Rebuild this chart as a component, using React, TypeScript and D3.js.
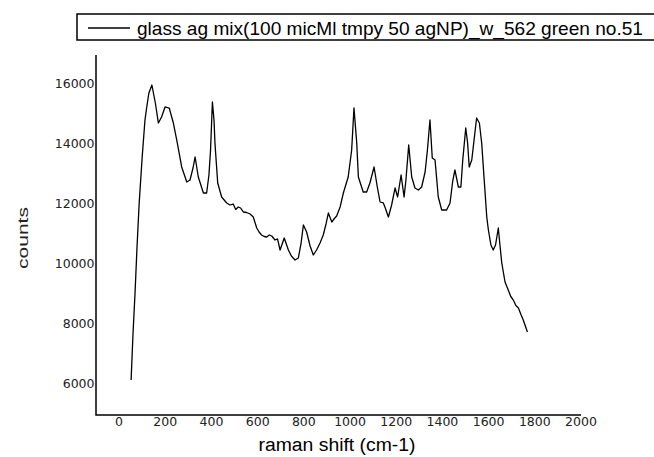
import React from "react";
import * as d3 from "d3";

const ramanShift = [52,60,69,78,87,100,112,121,129,142,157,170,184,199,217,235,252,271,293,307,320,329,343,365,379,389,396,404,411,415,427,444,466,480,494,505,516,526,538,552,567,581,596,606,617,628,639,650,661,675,686,697,715,733,746,762,776,788,798,812,827,841,855,870,884,896,906,921,932,942,957,971,992,1007,1017,1029,1036,1057,1072,1086,1104,1118,1130,1144,1151,1166,1180,1195,1206,1221,1234,1242,1254,1267,1281,1296,1310,1325,1335,1346,1356,1368,1382,1397,1418,1433,1444,1454,1469,1480,1488,1501,1509,1516,1527,1537,1548,1560,1570,1580,1592,1599,1610,1620,1630,1642,1649,1657,1671,1685,1696,1707,1718,1729,1740,1750,1768];
const counts = [6117,7617,9017,10617,12017,13550,14783,15283,15683,15950,15350,14683,14883,15217,15183,14683,14017,13217,12717,12783,13183,13550,12883,12350,12350,12950,13783,15383,14783,14017,12683,12217,12017,11950,11983,11800,11883,11850,11717,11700,11650,11550,11183,11050,10950,10900,10883,10950,10917,10783,10820,10450,10850,10450,10250,10117,10183,10683,11283,11050,10583,10283,10450,10683,10950,11317,11683,11383,11500,11583,11883,12350,12883,13783,15183,14017,12883,12383,12383,12683,13217,12550,12050,12017,11883,11550,11950,12517,12217,12950,12217,12783,13950,12883,12517,12450,12550,13050,13783,14783,13517,13450,12217,11783,11783,12017,12717,13117,12550,12550,13450,14517,14017,13217,13450,14117,14850,14683,14017,12883,11550,11117,10617,10450,10617,11183,10617,10017,9383,9117,8900,8783,8600,8517,8300,8117,7717];

const xTicks = [0,200,400,600,800,1000,1200,1400,1600,1800,2000];
const yTicks = [6000,8000,10000,12000,14000,16000];
const legendLabel = "glass ag mix(100 micMl tmpy 50 agNP)_w_562 green no.51";
const xTitle = "raman shift (cm-1)";
const yTitle = "counts";

export default function App() {
  const x = d3.scaleLinear().domain([-100, 2000]).range([96, 581]);
  const y = d3.scaleLinear().domain([4950, 16950]).range([415, 55]);
  const data = ramanShift.map((v, i) => [v, counts[i]] as [number, number]);
  const line = d3.line<[number, number]>().x(d => x(d[0])).y(d => y(d[1]));
  const [x0, x1] = x.range();
  const [yb, yt] = y.range();
  return (
    <svg width={654} height={457} style={{ position: "absolute", left: 0, top: 0, background: "#fff" }}>
      <rect x={0} y={0} width={654} height={457} fill="#fff" />
      {/* legend */}
      <rect x={77} y={14} width={600} height={26} fill="#fff" stroke="#000" strokeWidth={1.5} />
      <line x1={88} x2={130} y1={28} y2={28} stroke="#000" strokeWidth={1.5} />
      <text x={137} y={34.5} fontFamily="Liberation Sans, Arial, sans-serif" fontSize={19} textLength={506} lengthAdjust="spacingAndGlyphs" fill="#000">{legendLabel}</text>
      {/* axes */}
      <path d={`M${x0},${yt}V${yb}H${x1}`} fill="none" stroke="#000" strokeWidth={1.5} />
      {yTicks.map(t => (
        <text key={t} x={94.5} y={y(t)} dy="0.36em" textAnchor="end" fontFamily="DejaVu Sans, sans-serif" fontSize={12.5} fill="#222">{t}</text>
      ))}
      {xTicks.map(t => (
        <text key={t} x={x(t)} y={426} textAnchor="middle" fontFamily="DejaVu Sans, sans-serif" fontSize={12.5} fill="#222">{t}</text>
      ))}
      <text x={337} y={451} textAnchor="middle" fontFamily="Liberation Sans, Arial, sans-serif" fontSize={18} textLength={157} lengthAdjust="spacingAndGlyphs" fill="#000">{xTitle}</text>
      <text transform="translate(28,238) rotate(-90)" textAnchor="middle" fontFamily="Liberation Sans, Arial, sans-serif" fontSize={15} textLength={62} lengthAdjust="spacingAndGlyphs" fill="#222">{yTitle}</text>
      {/* spectrum */}
      <path d={line(data) || ""} fill="none" stroke="#000" strokeWidth={1.3} strokeLinejoin="round" />
    </svg>
  );
}
